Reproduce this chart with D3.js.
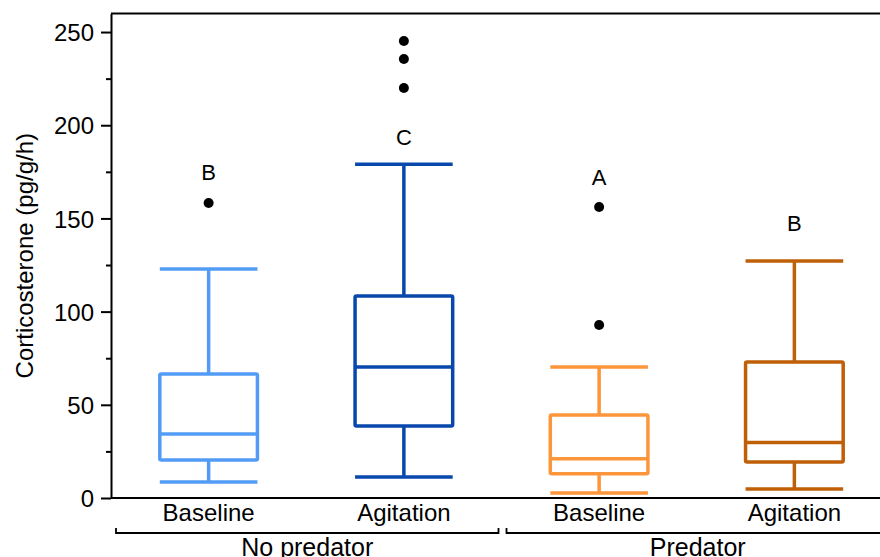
<!DOCTYPE html>
<html>
<head>
<meta charset="utf-8">
<script src="https://cdn.jsdelivr.net/npm/d3@7"></script>
<style>
  body { margin: 0; background: #fff; }
  text { font-family: "Liberation Sans", Arial, Helvetica, sans-serif; fill: #000; }
</style>
</head>
<body>
<svg width="880" height="557"></svg>
<script>
// data
var groups = ['No predator', 'Predator'];
var treatments = ['Baseline', 'Agitation', 'Baseline', 'Agitation'];
var groupOf = [0, 0, 1, 1];
var colorsList = ['#529cf5', '#0848ad', '#fd953a', '#bf5f08'];
var whiskLow = [8.6, 11.3, 2.7, 4.8];
var q1 = [20.4, 38.6, 13.0, 19.3];
var median = [34.3, 70.3, 21.0, 29.8];
var q3 = [66.5, 108.4, 44.5, 73.0];
var whiskHigh = [122.9, 179.0, 70.3, 127.1];
var outliers = [[158.3], [220, 235.5, 245.2], [92.8, 156.1], []];
var letters = ['B', 'C', 'A', 'B'];
var letterY = [170.6, 189.6, 168.2, 143.2];
var yTicks = [0, 50, 100, 150, 200, 250];
var yMinor = [25, 75, 125, 175, 225];

(function() {
var svg = d3.select('svg');
var plotLeft = 111, plotRight = 892, plotTop = 13.4, plotBottom = 498;

var idx = d3.range(treatments.length);
var x = d3.scaleBand()
  .domain(idx)
  .range([plotLeft, plotRight])
  .paddingInner(0.5)
  .paddingOuter(0.25);
var y = d3.scaleLinear()
  .domain([0, 260])
  .range([plotBottom, plotTop]);

var cx = function(i) { return x(i) + x.bandwidth() / 2; };

// frame: top line and bottom line
svg.append('line')
  .attr('x1', plotLeft).attr('x2', plotRight)
  .attr('y1', y(260)).attr('y2', y(260))
  .attr('stroke', '#000').attr('stroke-width', 2);
svg.append('line')
  .attr('x1', plotLeft).attr('x2', plotRight)
  .attr('y1', y(0)).attr('y2', y(0))
  .attr('stroke', '#000').attr('stroke-width', 2);

var yAxis = svg.append('g')
  .attr('transform', 'translate(' + plotLeft + ',0)')
  .call(d3.axisLeft(y).tickValues(yTicks).tickSize(10).tickPadding(7).tickSizeOuter(0));
yAxis.select('.domain').attr('stroke-width', 2);
yAxis.selectAll('.tick line').attr('stroke-width', 2);
yAxis.selectAll('.tick text')
  .style('font-size', '24px')
  .style('font-family', '"Liberation Sans", Arial, sans-serif')
  .attr('dy', '0.36em');

svg.append('g')
  .attr('transform', 'translate(' + plotLeft + ',0)')
  .call(d3.axisLeft(y).tickValues(yMinor).tickSize(5).tickFormat(''))
  .call(function(g) { g.select('.domain').remove(); })
  .selectAll('.tick line').attr('stroke-width', 2);

// y label
svg.append('text')
  .attr('transform', 'rotate(-90)')
  .attr('x', -(plotTop + plotBottom) / 2)
  .attr('y', 33)
  .attr('text-anchor', 'middle')
  .style('font-size', '24px')
  .text('Corticosterone (pg/g/h)');

// boxes
var boxes = svg.selectAll('.box')
  .data(idx)
  .enter()
  .append('g')
  .attr('class', 'box')
  .attr('stroke', function(i) { return colorsList[i]; })
  .attr('stroke-width', 3.5)
  .attr('fill', 'none');

// whisker stems
boxes.append('line')
  .attr('x1', cx).attr('x2', cx)
  .attr('y1', function(i) { return y(whiskLow[i]); })
  .attr('y2', function(i) { return y(q1[i]); });
boxes.append('line')
  .attr('x1', cx).attr('x2', cx)
  .attr('y1', function(i) { return y(q3[i]); })
  .attr('y2', function(i) { return y(whiskHigh[i]); });
// caps
boxes.append('line')
  .attr('x1', function(i) { return x(i); })
  .attr('x2', function(i) { return x(i) + x.bandwidth(); })
  .attr('y1', function(i) { return y(whiskLow[i]); })
  .attr('y2', function(i) { return y(whiskLow[i]); });
boxes.append('line')
  .attr('x1', function(i) { return x(i); })
  .attr('x2', function(i) { return x(i) + x.bandwidth(); })
  .attr('y1', function(i) { return y(whiskHigh[i]); })
  .attr('y2', function(i) { return y(whiskHigh[i]); });
// box
boxes.append('rect')
  .attr('x', function(i) { return x(i); })
  .attr('width', x.bandwidth())
  .attr('y', function(i) { return y(q3[i]); })
  .attr('height', function(i) { return y(q1[i]) - y(q3[i]); })
  .attr('rx', 1.5);
// median
boxes.append('line')
  .attr('x1', function(i) { return x(i); })
  .attr('x2', function(i) { return x(i) + x.bandwidth(); })
  .attr('y1', function(i) { return y(median[i]); })
  .attr('y2', function(i) { return y(median[i]); });

// outliers
idx.forEach(function(i) {
  svg.selectAll('.out' + i)
    .data(outliers[i])
    .enter()
    .append('circle')
    .attr('class', 'out' + i)
    .attr('cx', cx(i))
    .attr('cy', function(d) { return y(d); })
    .attr('r', 5)
    .attr('fill', '#000');
});

// significance letters
svg.selectAll('.letter')
  .data(idx)
  .enter()
  .append('text')
  .attr('class', 'letter')
  .attr('x', cx)
  .attr('y', function(i) { return y(letterY[i]); })
  .attr('text-anchor', 'middle')
  .style('font-size', '22px')
  .text(function(i) { return letters[i]; });

// category labels
svg.selectAll('.cat')
  .data(idx)
  .enter()
  .append('text')
  .attr('class', 'cat')
  .attr('x', cx)
  .attr('y', 521)
  .attr('text-anchor', 'middle')
  .style('font-size', '24px')
  .text(function(i) { return treatments[i]; });

// group brackets
var groupX = groups.map(function(g, k) {
  var members = idx.filter(function(i) { return groupOf[i] === k; });
  var first = members[0], last = members[members.length - 1];
  return [x(first) - x.step() * x.paddingInner() / 2 + 5,
          x(last) + x.bandwidth() + x.step() * x.paddingInner() / 2 - 3];
});
var bracketY = 533;
groups.forEach(function(g, k) {
  var a = groupX[k][0], b = groupX[k][1];
  svg.append('path')
    .attr('d', 'M' + a + ',' + (bracketY - 5) + 'V' + bracketY + 'H' + b + 'V' + (bracketY - 5))
    .attr('fill', 'none')
    .attr('stroke', '#000')
    .attr('stroke-width', 1.8);
  svg.append('text')
    .attr('x', (a + b) / 2)
    .attr('y', 556)
    .attr('text-anchor', 'middle')
    .style('font-size', '25px')
    .text(g);
});
})();
</script>
</body>
</html>
